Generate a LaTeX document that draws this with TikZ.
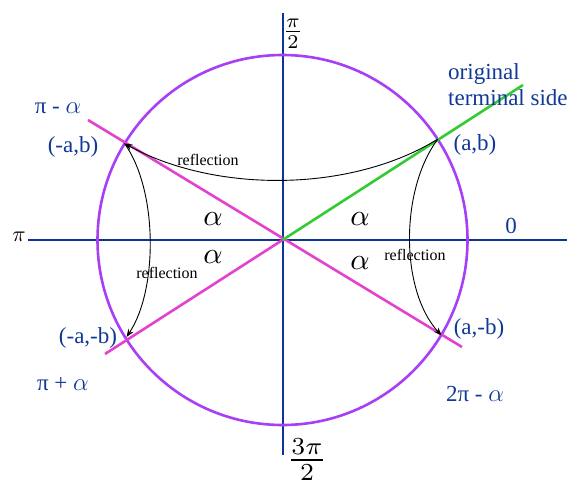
\documentclass[tikz,border=0pt]{standalone}
\usepackage{amsmath}
\usepackage{graphicx}
\usepackage{fontspec}
\setmainfont{Liberation Serif}
\usetikzlibrary{arrows.meta}
\definecolor{navy}{RGB}{12,52,150}
\definecolor{lblue}{RGB}{16,56,150}
\definecolor{circpurple}{RGB}{168,62,245}
\definecolor{mag}{RGB}{226,66,206}
\definecolor{grn}{RGB}{50,204,50}
\tikzset{
  axisline/.style={draw=navy,line width=2.6pt},
  circline/.style={draw=circpurple,line width=2.6pt},
  magline/.style={draw=mag,line width=2.6pt},
  grnline/.style={draw=grn,line width=2.6pt},
  refl/.style={draw=black,line width=0.9pt,-{Stealth[length=8pt,width=6pt]}},
  lbl/.style={text=lblue,inner sep=0pt,font=\fontsize{23}{27}\selectfont},
  rlbl/.style={text=black,inner sep=0pt,font=\fontsize{16}{19}\selectfont},
  alab/.style={text=black,inner sep=0pt},
}
\begin{document}
\begin{tikzpicture}[x=1pt,y=-1pt]
\useasboundingbox (0,0) rectangle (581,487);
\coordinate (O) at (282.5,240);
\coordinate (AB) at (437.7,139.2);
\coordinate (mAB) at (124.5,143.5);
\coordinate (mAmB) at (126.5,337);
\coordinate (AmB) at (441.5,335.5);
\coordinate (Xl) at (28,240);
\coordinate (Xr) at (567,240);
\coordinate (Yt) at (283,13);
\coordinate (Yb) at (283,455);
\coordinate (M1a) at (88,120);
\coordinate (M1b) at (462,347);
\coordinate (M2a) at (105,354);
\coordinate (Gend) at (523,85);
% axes
\draw[axisline] (Xl) -- (Xr);
\draw[axisline] (Yt) -- (Yb);
% circle
\draw[circline] (O) circle (185pt);
% lines
\draw[magline] (M1a) -- (M1b);
\draw[magline] (M2a) -- (O);
\draw[grnline] (O) -- (Gend);
% reflection arrows
\draw[refl] (AB) .. controls (350,193) and (215,193) .. (mAB);
\draw[refl] (mAB) .. controls (158,190) and (158,290) .. (mAmB);
\draw[refl] (AB) .. controls (400,190) and (400,290) .. (AmB);
\node[rlbl] (r1) at (208,160) {reflection};
\node[rlbl] (r2) at (167,273) {reflection};
\node[rlbl] (r3) at (415,255) {reflection};
% point labels
\node[lbl] (lab) at (475,145) {(a,b)};
\node[lbl] (lmab) at (73,147) {(-a,b)};
\node[lbl] (lmamb) at (88,338) {(-a,-b)};
\node[lbl] (lamb) at (479,329) {(a,-b)};
\node[lbl,anchor=west,align=left,font=\fontsize{23}{26}\selectfont] (orig) at (448,85) {original\\terminal side};
\node[lbl] (zero) at (511,226) {0};
\node[lbl] (pma) at (58,108) {π\ - $\alpha$};
\node[lbl] (ppa) at (63,384) {π + $\alpha$};
\node[lbl] (tpma) at (475,394) {2π - $\alpha$};
% axis angle labels
\node[inner sep=0pt] (pihalf) at (293,34) {\scalebox{2.8}{$\frac{\pi}{2}$}};
\node[inner sep=0pt] (tpihalf) at (307,460) {\scalebox{3.5}{$\frac{3\pi}{2}$}};
\node[inner sep=0pt] (pil) at (19,237) {\scalebox{2.2}{$\pi$}};
% alpha labels
\node[alab] (a1) at (213,219) {\scalebox{3}{$\alpha$}};
\node[alab] (a2) at (213,257) {\scalebox{3}{$\alpha$}};
\node[alab] (a3) at (360,219) {\scalebox{3}{$\alpha$}};
\node[alab] (a4) at (360,263) {\scalebox{3}{$\alpha$}};
\end{tikzpicture}
\end{document}
